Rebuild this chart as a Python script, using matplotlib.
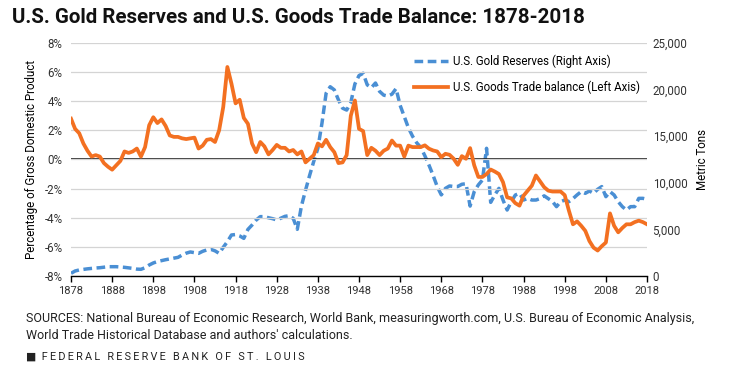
import numpy as np
import matplotlib
matplotlib.use("Agg")
import matplotlib.pyplot as plt
from matplotlib.lines import Line2D

plt.rcParams['font.family'] = ['Roboto', 'DejaVu Sans']

years = np.arange(1878, 2019)

# U.S. goods trade balance, % of GDP (left axis)
trade_balance = [
    2.8, 2.1, 1.8, 1.1, 0.6, 0.2, 0.3, 0.2, -0.25, -0.5,          # 1878-1887
    -0.7, -0.4, -0.1, 0.55, 0.45, 0.55, 0.75, 0.2, 0.85, 2.35,     # 1888-1897
    2.9, 2.5, 2.75, 2.3, 1.65, 1.55, 1.55, 1.45, 1.4, 1.45,        # 1898-1907
    1.5, 0.75, 0.95, 1.35, 1.4, 1.2, 2.0, 3.6, 6.35, 5.2,          # 1908-1917
    3.85, 4.1, 2.85, 2.45, 1.1, 0.5, 1.2, 0.9, 0.35, 0.65,         # 1918-1927
    1.0, 0.8, 0.8, 0.55, 0.65, 0.35, 0.55, -0.2, 0.05, 0.3,        # 1928-1937
    1.1, 0.9, 1.35, 0.85, 0.5, -0.25, -0.2, 0.3, 3.0, 4.05,        # 1938-1947
    2.1, 1.95, 0.3, 0.8, 0.6, 0.3, 0.6, 0.75, 1.3, 0.95,           # 1948-1957
    0.95, 0.2, 0.95, 0.85, 0.85, 0.85, 0.97, 0.74, 0.62, 0.55,     # 1958-1967
    0.16, 0.39, 0.32, 0.05, -0.37, 0.23, 0.05, 0.78, -0.4, -1.2,   # 1968-1977
    -1.2, -1.0, -0.69, -0.83, -1.0, -1.56, -2.6, -2.67, -3.0, -3.17,  # 1978-1987
    -2.48, -2.14, -1.8, -1.1, -1.5, -1.9, -2.14, -2.2, -2.2, -2.2,    # 1988-1997
    -2.45, -3.5, -4.45, -4.25, -4.55, -4.9, -5.6, -6.05, -6.25, -5.95,  # 1998-2007
    -5.7, -3.7, -4.55, -5.0, -4.7, -4.45, -4.45, -4.3, -4.2, -4.3,    # 2008-2017
    -4.45,                                                          # 2018
]

# U.S. gold reserves, metric tons (right axis)
gold_reserves = [
    290, 540, 650, 715, 770, 820, 860, 890, 950, 1000,             # 1878-1887
    1000, 1000, 970, 930, 880, 820, 740, 720, 890, 1180,           # 1888-1897
    1400, 1550, 1650, 1750, 1830, 1900, 2000, 2250, 2450, 2580,    # 1898-1907
    2500, 2430, 2650, 2800, 2860, 2700, 2430, 3080, 3680, 4400,    # 1908-1917
    4450, 4300, 4040, 5000, 5470, 6000, 6370, 6370, 6250, 6150,    # 1918-1927
    6010, 6200, 6400, 6470, 6190, 5010, 7500, 9200, 10800, 12300,  # 1928-1937
    13700, 16400, 19600, 20300, 19960, 18890, 18000, 17800, 18600, 20600,  # 1938-1947
    21500, 21750, 20500, 20200, 20700, 19800, 19400, 19300, 19500, 20100,  # 1948-1957
    18300, 17100, 15900, 15000, 14300, 13800, 12900, 11900, 10800, 9600,   # 1958-1967
    8700, 9400, 9660, 9600, 9600, 9840, 9900, 7500, 9050, 9770,    # 1968-1977
    10300, 13700, 7900, 8690, 9400, 8150, 7080, 7970, 8690, 8870,  # 1978-1987
    8150, 8330, 8150, 8150, 8300, 8600, 8300, 8000, 7440, 7970,    # 1988-1997
    8150, 7970, 8300, 8700, 9050, 8870, 9120, 8870, 9300, 9590,    # 1998-2007
    8510, 9050, 8690, 7970, 7440, 7080, 7440, 7440, 8330, 8330,    # 2008-2017
    8230,                                                          # 2018
]

left_ticks = [-8, -6, -4, -2, 0, 2, 4, 6, 8]
right_ticks = [0, 5000, 10000, 15000, 20000, 25000]
x_ticks = list(range(1878, 2019, 10))

ORANGE = "#F37021"
BLUE = "#4A8FD4"

fig = plt.figure(figsize=(7.42, 3.70), dpi=100)
ax = fig.add_axes([0.0957, 0.254, 0.7763, 0.630])
ax2 = ax.twinx()
ax.set_zorder(ax2.get_zorder() + 1)
ax.patch.set_visible(False)

ax2.plot(years, gold_reserves, color=BLUE, lw=2.5, dashes=(2.5, 1.3))
ax.plot(years, trade_balance, color=ORANGE, lw=2.7, solid_joinstyle="round")
ax.axhline(0, color="black", lw=1.1, zorder=1)

ax.set_xlim(1878, 2018)
ax.set_ylim(-8, 8)
ax2.set_ylim(0, 25000)

ax.set_yticks(left_ticks)
ax.set_yticklabels([f"{t}%" for t in left_ticks])
ax2.set_yticks(right_ticks)
ax2.set_yticklabels([f"{t:,}" for t in right_ticks])
ax.set_xticks(x_ticks)
ax.set_xticklabels([str(t) for t in x_ticks])

ax.grid(axis="y", color="#d4d4d4", lw=0.9, zorder=0)
for a in (ax, ax2):
    for s in ("top", "left", "right"):
        a.spines[s].set_visible(False)
ax2.spines["bottom"].set_visible(False)
ax.spines["bottom"].set_color("black")
ax.spines["bottom"].set_linewidth(1.0)

ax.tick_params(axis="y", length=0, pad=6, labelsize=8.3, labelcolor="#333333")
ax2.tick_params(axis="y", length=0, pad=4, labelsize=8.3, labelcolor="#333333")
ax.tick_params(axis="x", length=4, width=1.0, pad=3, labelsize=8.0,
               labelcolor="#333333", direction="out")

ax.set_ylabel("Percentage of Gross Domestic Product", fontsize=8.3, labelpad=5)
ax2.set_ylabel("Metric Tons", fontsize=8.3, labelpad=6)

handles = [
    Line2D([], [], color=BLUE, lw=2.5, dashes=(2.5, 1.3)),
    Line2D([], [], color=ORANGE, lw=2.7),
]
labels = ["U.S. Gold Reserves (Right Axis)", "U.S. Goods Trade balance (Left Axis)"]
ax.legend(handles, labels, loc="upper right", bbox_to_anchor=(1.0, 0.98),
          frameon=False, fontsize=8.3, handlelength=3.0, handletextpad=0.4,
          labelspacing=1.1, borderaxespad=0.2)

fig.text(0.016, 0.953, "U.S. Gold Reserves and U.S. Goods Trade Balance: 1878-2018",
         fontsize=14.8, fontweight="bold", va="center", ha="left", color="#111111")
fig.text(0.035, 0.116,
         "SOURCES: National Bureau of Economic Research, World Bank, measuringworth.com, "
         "U.S. Bureau of Economic Analysis,\nWorld Trade Historical Database and authors' calculations.",
         fontsize=9.0, va="center", ha="left", color="#222222", linespacing=1.45)
footer = "\u2009".join("FEDERAL RESERVE BANK OF ST. LOUIS")
fig.text(0.035, 0.035, "\u25A0  " + footer,
         fontsize=7.8, va="center", ha="left", color="#222222")

fig.savefig("out.png", dpi=100)
